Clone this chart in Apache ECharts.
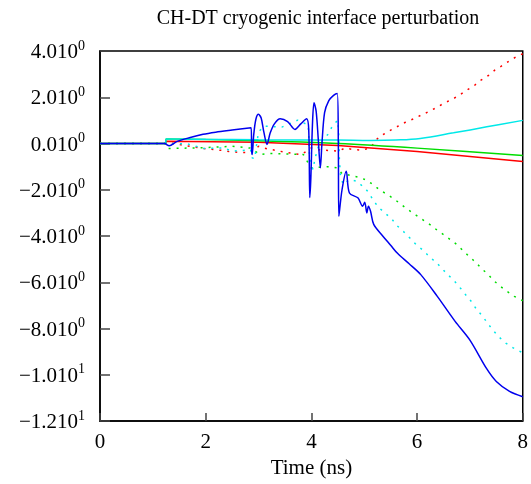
<!DOCTYPE html>
<html>
<head>
<meta charset="utf-8">
<script src="https://cdn.jsdelivr.net/npm/echarts@6/dist/echarts.min.js"></script>
<style>html,body{margin:0;padding:0;background:#fff}#c{width:531px;height:484px}</style>
</head>
<body>
<div id="c"></div>
<script>
// ---- data ----
const titleText = 'CH-DT cryogenic interface perturbation';
const xName = 'Time (ns)';
const xTicks = [0, 2, 4, 6, 8];
const yTicks = [-12, -10, -8, -6, -4, -2, 0, 2, 4];
const yMantissa = ['\u22121.2', '\u22121.0', '\u22128.0', '\u22126.0', '\u22124.0', '\u22122.0', '0.0', '2.0', '4.0'];
const yExponent = ['1', '1', '0', '0', '0', '0', '0', '0', '0'];

const blueSolid = [[0,0],[1.24,0],[1.25,-0.03],[1.31,-0.1],[1.45,0.08],[1.69,0.25],[1.95,0.4],[2.19,0.49],[2.5,0.58],[2.86,0.68],[2.87,-0.3],[2.88,-0.48],[2.91,0.4],[2.95,1.05],[3.0,1.26],[3.05,1.1],[3.1,0.5],[3.16,-0.04],[3.22,0.45],[3.3,0.85],[3.41,1.07],[3.55,0.95],[3.69,0.61],[3.8,0.85],[3.91,1.07],[3.95,0.6],[3.97,-2.34],[3.99,-1.5],[4.02,0.8],[4.05,1.76],[4.09,1.4],[4.13,0.2],[4.17,-1.05],[4.2,0.0],[4.25,1.33],[4.33,1.85],[4.42,2.08],[4.49,2.16],[4.51,0.0],[4.52,-3.15],[4.58,-2.0],[4.66,-1.2],[4.72,-2.14],[4.88,-2.35],[4.97,-2.71],[5.01,-2.54],[5.05,-3.0],[5.08,-2.71],[5.12,-2.93],[5.18,-3.5],[5.35,-4.0],[5.5,-4.4],[5.63,-4.75],[5.85,-5.2],[6.07,-5.67],[6.38,-6.6],[6.72,-7.69],[7.0,-8.5],[7.32,-9.75],[7.5,-10.29],[7.75,-10.72],[8.0,-10.95]];
const cyanSolid = [[0,0],[1.24,0],[1.25,0.2],[2.0,0.18],[3.0,0.16],[4.5,0.15],[5.12,0.13],[5.6,0.15],[6.06,0.22],[6.69,0.46],[7.32,0.72],[8.0,1.0]];
const greenSolid = [[0,0],[1.24,0],[1.25,0.2],[3.0,0.12],[4.5,0.0],[6.0,-0.2],[8.0,-0.52]];
const redSolid = [[0,0],[1.24,0],[1.25,0.1],[3.0,0.05],[4.5,-0.09],[6.0,-0.35],[8.0,-0.78]];
const redDotted = [[0,0],[1.25,0],[1.3,0.03],[1.97,-0.22],[2.31,-0.3],[2.47,-0.36],[2.81,-0.4],[2.9,-0.3],[3.0,-0.12],[3.16,-0.23],[3.33,-0.3],[3.48,-0.37],[3.65,-0.43],[3.81,-0.48],[4.0,-0.19],[4.03,-0.23],[4.19,-0.29],[4.36,-0.3],[4.52,-0.33],[4.63,-0.2],[4.8,-0.26],[4.97,-0.29],[5.13,-0.16],[5.23,0.17],[5.36,0.39],[5.5,0.58],[5.64,0.75],[5.78,0.92],[5.94,1.07],[6.08,1.23],[6.24,1.4],[6.38,1.57],[6.52,1.76],[6.66,1.9],[6.8,2.09],[6.94,2.31],[7.07,2.48],[7.2,2.73],[7.35,2.94],[7.47,3.17],[7.62,3.38],[7.74,3.56],[7.87,3.74],[8.0,3.88]];
const greenDotted = [[0,0],[1.25,0],[1.29,-0.22],[1.81,-0.19],[2.16,-0.16],[2.5,-0.12],[2.85,-0.2],[3.03,-0.48],[3.2,-0.43],[3.53,-0.45],[3.85,-0.48],[3.99,-1.05],[4.33,-1.0],[4.49,-1.05],[4.58,-1.3],[4.74,-1.38],[4.9,-1.46],[5.05,-1.59],[5.18,-1.8],[5.3,-2.02],[5.44,-2.21],[5.58,-2.42],[5.7,-2.64],[5.83,-2.86],[5.98,-3.1],[6.13,-3.33],[6.27,-3.55],[6.38,-3.75],[6.52,-3.97],[6.65,-4.19],[6.77,-4.4],[6.88,-4.66],[7.0,-4.91],[7.12,-5.16],[7.22,-5.41],[7.35,-5.67],[7.45,-5.93],[7.58,-6.18],[7.7,-6.39],[7.84,-6.61],[8.0,-6.8]];
const cyanDotted = [[0,0],[1.25,0],[1.28,0.06],[1.64,-0.01],[1.81,-0.12],[1.97,-0.22],[2.15,-0.2],[2.33,-0.19],[2.5,-0.33],[2.7,-0.3],[2.85,-0.26],[2.88,-0.62],[2.93,-0.66],[2.95,-0.26],[3.0,0.5],[3.1,0.75],[3.44,0.71],[3.74,1.01],[3.94,0.8],[3.95,0.3],[3.96,-0.3],[3.97,-0.69],[4.03,-1.13],[4.06,-0.76],[4.1,-0.37],[4.15,0.0],[4.25,0.25],[4.33,0.43],[4.4,0.78],[4.5,1.0],[4.52,0.3],[4.53,-0.69],[4.55,-1.34],[4.6,-1.77],[4.72,-1.56],[4.86,-1.63],[4.99,-1.89],[5.08,-2.1],[5.17,-2.45],[5.27,-2.76],[5.39,-3.0],[5.52,-3.26],[5.62,-3.55],[5.74,-3.8],[5.86,-4.08],[5.98,-4.37],[6.12,-4.63],[6.24,-4.91],[6.37,-5.16],[6.48,-5.43],[6.6,-5.71],[6.71,-5.96],[6.83,-6.28],[6.93,-6.57],[7.04,-6.87],[7.13,-7.19],[7.24,-7.47],[7.34,-7.79],[7.44,-8.08],[7.55,-8.37],[7.68,-8.63],[7.82,-8.84],[8.0,-9.05]];

// ---- chart ----
const FONT = 'Liberation Serif';
const chart = echarts.init(document.getElementById('c'), null, {renderer: 'canvas'});
function line(data, color, dotted, z, smooth) {
  return {
    type: 'line', data: data, showSymbol: false, symbol: 'none', z: z,
    smooth: smooth || false,
    lineStyle: {color: color, width: 1.5, type: dotted ? [2, 6] : 'solid'},
    emphasis: {disabled: true}
  };
}
chart.setOption({
  animation: false,
  backgroundColor: '#fff',
  graphic: [{
    type: 'text', x: 318, y: 9,
    style: {text: titleText, font: '20px "Liberation Serif"', fill: '#000', textAlign: 'center', textVerticalAlign: 'top'}
  }],
  grid: {left: 100, right: 4, top: 51, bottom: 63, show: true, borderColor: '#000', borderWidth: 1.5, containLabel: false},
  xAxis: {
    type: 'value', min: xTicks[0], max: xTicks[xTicks.length - 1], interval: 2,
    name: xName, nameLocation: 'middle', nameGap: 34,
    nameTextStyle: {fontFamily: FONT, fontSize: 21, color: '#000'},
    axisLine: {onZero: false, lineStyle: {color: '#000', width: 1.5}},
    axisTick: {inside: true, length: 8, lineStyle: {color: '#444', width: 1.5}},
    axisLabel: {fontFamily: FONT, fontSize: 21, color: '#000', margin: 11},
    splitLine: {show: false}
  },
  yAxis: {
    type: 'value', min: yTicks[0], max: yTicks[yTicks.length - 1], interval: 2,
    axisLine: {onZero: false, lineStyle: {color: '#000', width: 1.5}},
    axisTick: {inside: true, length: 10, lineStyle: {color: '#444', width: 1.5}},
    axisLabel: {
      margin: 15, color: '#000',
      formatter: function (v) {
        const i = yTicks.indexOf(v);
        if (i < 0) return '';
        return '{m|' + yMantissa[i] + '10}{e|' + yExponent[i] + '}';
      },
      rich: {
        m: {fontFamily: FONT, fontSize: 21, color: '#000', lineHeight: 24, verticalAlign: 'bottom'},
        e: {fontFamily: FONT, fontSize: 14, color: '#000', lineHeight: 24, verticalAlign: 'top'}
      }
    },
    splitLine: {show: false}
  },
  series: [
    line(redDotted, '#ff0000', true, 2, 0),
    line(greenDotted, '#00dd00', true, 2, 0),
    line(cyanDotted, '#00e8e8', true, 2, 0),
    line(redSolid, '#ff0000', false, 3, 0),
    line(greenSolid, '#00dd00', false, 3, 0.3),
    line(cyanSolid, '#00e8e8', false, 3, 0.4),
    line(blueSolid, '#0000ee', false, 4, 0.3)
  ]
});
</script>
</body>
</html>
